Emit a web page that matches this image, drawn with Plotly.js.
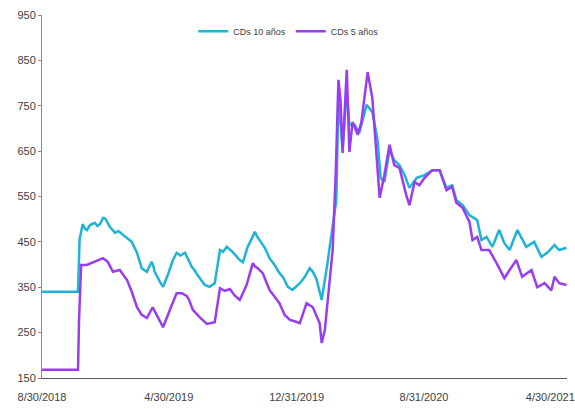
<!DOCTYPE html>
<html>
<head>
<meta charset="utf-8">
<script src="https://cdn.plot.ly/plotly-3.0.1.min.js"></script>
<style>
  html, body { margin: 0; padding: 0; background: #ffffff; }
  #chart { width: 575px; height: 409px; }
</style>
</head>
<body>
<div id="chart"></div>
<script>
// CDS spreads (bps), 10-year and 5-year
const dates10 = [
  "2018-08-30","2018-11-07","2018-11-10","2018-11-16","2018-11-20","2018-11-24","2018-11-30","2018-12-09",
  "2018-12-14","2018-12-19","2018-12-25","2018-12-29","2019-01-07","2019-01-12","2019-01-17","2019-01-23",
  "2019-01-30","2019-02-09","2019-02-18","2019-02-28","2019-03-09","2019-03-19","2019-03-28","2019-03-31",
  "2019-04-03","2019-04-13","2019-04-19","2019-04-28","2019-05-08","2019-05-15","2019-05-22","2019-05-31",
  "2019-06-06","2019-06-13","2019-06-18","2019-06-24","2019-07-08","2019-07-17","2019-07-27","2019-08-06",
  "2019-08-12","2019-08-19","2019-08-30","2019-09-13","2019-09-19","2019-09-28","2019-10-05","2019-10-12",
  "2019-10-16","2019-10-21","2019-10-31","2019-11-09","2019-11-18","2019-11-28","2019-12-05","2019-12-14",
  "2019-12-23","2020-01-06","2020-01-15","2020-01-25","2020-01-31","2020-02-07","2020-02-17","2020-02-28",
  "2020-03-09","2020-03-16","2020-03-20","2020-03-28","2020-04-05","2020-04-10","2020-04-20","2020-04-29",
  "2020-05-13","2020-05-24","2020-06-03","2020-06-09","2020-06-16","2020-06-26","2020-07-05","2020-07-15",
  "2020-07-25","2020-08-03","2020-08-17","2020-09-01","2020-09-16","2020-09-30","2020-10-13","2020-10-24",
  "2020-11-01","2020-11-13","2020-11-26","2020-12-11","2020-12-19","2020-12-29","2021-01-09","2021-01-22",
  "2021-02-01","2021-02-11","2021-02-26","2021-03-15","2021-03-30","2021-04-13","2021-04-24","2021-05-08",
  "2021-05-17","2021-05-31"
];
const cds10 = [
  340,340,455,489,480,476,487,492,
  485,489,503,502,483,476,470,474,
  468,459,450,426,392,384,406,398,
  384,362,351,377,410,426,420,426,
  410,395,388,377,355,351,359,432,
  428,439,428,410,405,439,455,472,
  462,454,437,414,400,381,372,351,
  344,359,372,392,384,368,322,403,
  483,542,774,653,785,708,708,690,
  752,736,674,591,582,652,630,619,
  597,569,591,597,608,608,569,575,
  542,531,509,498,454,461,439,476,
  447,432,476,439,450,417,426,443,
  432,437
];

const dates5 = [
  "2018-08-30","2018-11-07","2018-11-09","2018-11-13","2018-11-24","2018-12-09","2018-12-25","2019-01-03",
  "2019-01-13","2019-01-26","2019-02-09","2019-02-18","2019-02-28","2019-03-09","2019-03-19","2019-03-30",
  "2019-04-09","2019-04-19","2019-05-02","2019-05-15","2019-05-25","2019-06-03","2019-06-08","2019-06-15",
  "2019-06-28","2019-07-12","2019-07-27","2019-08-06","2019-08-15","2019-08-25","2019-09-03","2019-09-13",
  "2019-09-26","2019-10-08","2019-10-12","2019-10-17","2019-10-27","2019-11-09","2019-11-18","2019-11-28",
  "2019-12-08","2019-12-18","2019-12-27","2020-01-06","2020-01-19","2020-01-31","2020-02-13","2020-02-17",
  "2020-02-23","2020-02-28","2020-03-09","2020-03-15","2020-03-20","2020-03-24","2020-03-28","2020-04-05",
  "2020-04-10","2020-04-16","2020-04-26","2020-05-03","2020-05-15","2020-05-24","2020-05-30","2020-06-07",
  "2020-06-16","2020-06-26","2020-07-05","2020-07-15","2020-07-28","2020-08-03","2020-08-13","2020-08-22",
  "2020-09-01","2020-09-16","2020-09-30","2020-10-13","2020-10-24","2020-11-01","2020-11-13","2020-11-26",
  "2020-12-02","2020-12-11","2020-12-19","2021-01-03","2021-01-17","2021-02-01","2021-02-11","2021-02-24",
  "2021-03-07","2021-03-25","2021-04-05","2021-04-19","2021-05-02","2021-05-08","2021-05-17","2021-05-31"
];
const cds5 = [
  168,168,278,399,399,406,414,406,
  384,388,366,340,306,289,282,306,
  284,262,300,337,337,331,322,300,
  284,269,273,348,342,346,332,322,
  355,403,396,392,381,344,330,315,
  289,278,275,271,315,306,271,227,
  256,315,432,608,807,763,646,829,
  648,714,686,714,824,767,675,547,
  597,664,619,613,553,531,582,575,
  591,608,608,564,571,536,525,494,
  454,461,432,432,403,370,388,410,
  373,388,350,359,343,373,359,355
];

const tickDates = ["2018-08-30","2019-04-30","2019-12-31","2020-08-31","2021-04-30"];
const tickLabels = ["8/30/2018","4/30/2019","12/31/2019","8/31/2020","4/30/2021"];
const seriesNames = ["CDs 10 años","CDs 5 años"];

const traces = [
  { x: dates10, y: cds10, name: seriesNames[0], type: "scatter", mode: "lines",
    line: { color: "#1fb3d6", width: 2.5 } },
  { x: dates5, y: cds5, name: seriesNames[1], type: "scatter", mode: "lines",
    line: { color: "#9a3cf0", width: 2.5 } }
];

const axisFont = { family: "Liberation Sans, Arial, sans-serif", size: 11, color: "#404040" };

const layout = {
  width: 575, height: 409,
  margin: { l: 42, r: 8, t: 15, b: 31 },
  paper_bgcolor: "#ffffff", plot_bgcolor: "#ffffff",
  showlegend: true,
  legend: {
    orientation: "h", x: 0.47, xanchor: "center", y: 0.955, yanchor: "middle",
    font: { family: "Liberation Sans, Arial, sans-serif", size: 9, color: "#404040" },
    bgcolor: "rgba(0,0,0,0)", itemwidth: 30
  },
  xaxis: {
    type: "date", range: ["2018-08-30", "2021-06-01"],
    tickvals: tickDates, ticktext: tickLabels,
    showgrid: false, zeroline: false,
    showline: true, linecolor: "#595959", linewidth: 1,
    ticks: "outside", ticklen: 9, tickcolor: "rgba(0,0,0,0)",
    tickfont: axisFont
  },
  yaxis: {
    range: [150, 950], dtick: 100, tick0: 150,
    showgrid: false, zeroline: false,
    showline: true, linecolor: "#8c8c8c", linewidth: 1,
    ticks: "outside", ticklen: 3, tickcolor: "#8c8c8c",
    tickfont: axisFont
  }
};

Plotly.newPlot("chart", traces, layout, { displayModeBar: false, staticPlot: true });
</script>
</body>
</html>
